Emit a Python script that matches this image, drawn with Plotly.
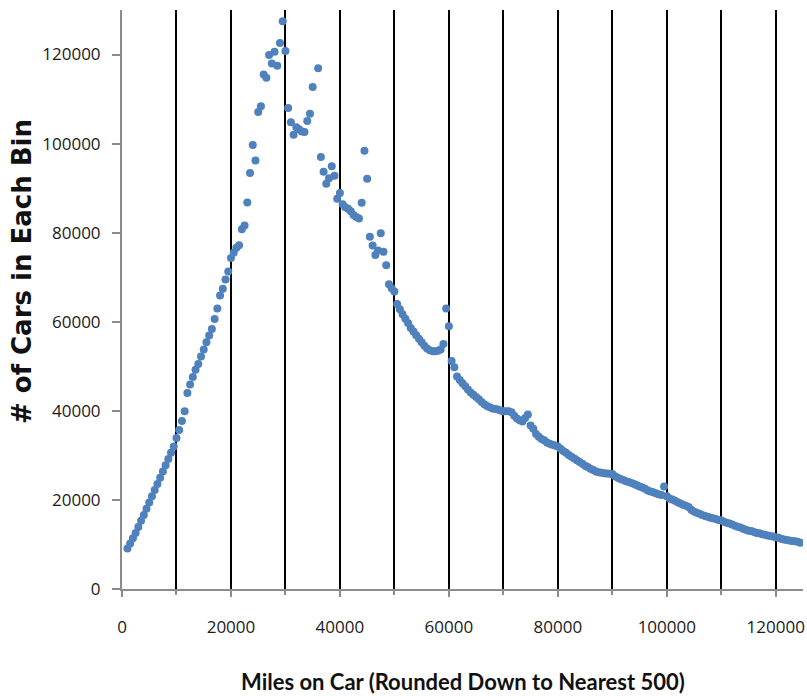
import plotly.graph_objects as go

# Bin start (miles) for each point: 1000 .. 124500 in 500-mile bins
bins = list(range(1000, 125000, 500))

# Number of cars in each bin
cars = [
    9100, 10200, 11400, 12600, 13900, 15300, 16600, 18000, 19400, 20800,      # 1000-5500
    22200, 23600, 25000, 26400, 27800, 29200, 30600, 32000, 33900, 35700,     # 6000-10500
    37700, 39900, 44000, 45900, 47600, 49200, 50500, 52200, 53800, 55400,     # 11000-15500
    56900, 58400, 60600, 63000, 65900, 67400, 69500, 71300, 74300, 75500,     # 16000-20500
    76600, 77200, 80800, 81600, 86800, 93400, 99700, 96200, 107100, 108400,   # 21000-25500
    115500, 114800, 119900, 118000, 120600, 117500, 122600, 127500, 120800, 108000,  # 26000-30500
    104800, 102000, 103700, 103200, 102700, 102600, 105100, 106700, 112700, None,    # 31000-35500
    116900, 97000, 93700, 91000, 92200, 94900, 92800, 87600, 88900, 86400,    # 36000-40500
    85700, 85400, 84800, 84000, 83500, 83200, 86700, 98400, 92100, 79100,     # 41000-45500
    77100, 75000, 76000, 79900, 75700, 72700, 68400, 67500, 66800, 64000,     # 46000-50500
    62800, 61700, 60700, 59700, 58600, 57800, 57000, 56200, 55400, 54600,     # 51000-55500
    54000, 53600, 53400, 53400, 53500, 53800, 55000, 63000, 59000, 51200,     # 56000-60500
    49800, 47700, 46900, 46200, 45500, 44800, 44100, 43600, 43100, 42600,     # 61000-65500
    42000, 41500, 41100, 40800, 40500, 40400, 40300, 40100, 39900, 39900,     # 66000-70500
    39900, 39700, 38900, 38300, 37900, 37600, 38400, 39200, 36700, 36000,     # 71000-75500
    34800, 34200, 33700, 33400, 32900, 32600, 32400, 32200, 32000, 31500,     # 76000-80500
    31000, 30600, 30100, 29700, 29300, 28900, 28500, 28100, 27700, 27400,     # 81000-85500
    27000, 26700, 26400, 26200, 26100, 26000, 25950, 25900, 25800, 25300,     # 86000-90500
    25000, 24700, 24500, 24200, 24000, 23800, 23600, 23300, 23000, 22800,     # 91000-95500
    22500, 22100, 21900, 21700, 21500, 21300, 21100, 23000, 20800, 20300,     # 96000-100500
    20100, 19800, 19500, 19200, 18900, 18700, 18400, 17800, 17400, 17100,     # 101000-105500
    16900, 16600, 16400, 16200, 16000, 15900, 15700, 15500, 15400, 15100,     # 106000-110500
    14900, 14700, 14500, 14200, 14000, 13800, 13500, 13300, 13100, 13000,     # 111000-115500
    12800, 12600, 12500, 12300, 12200, 12000, 11900, 11800, 11600, 11500,     # 116000-120500
    11300, 11100, 11000, 10900, 10800, 10700, 10600, 10400,                   # 121000-124500
]

x_title = "Miles on Car (Rounded Down to Nearest 500)"
y_title = "# of Cars in Each Bin"
x_label_step = 20000
x_line_step = 10000
y_label_step = 20000

fig = go.Figure()
fig.add_trace(go.Scatter(
    x=bins, y=cars, mode="markers",
    marker=dict(color="#4F81BD", size=8, line=dict(width=0)),
    hoverinfo="x+y", showlegend=False,
))

tick_font = dict(family="Open Sans, sans-serif", size=17, color="#1a1a1a")

fig.update_layout(
    width=807, height=696,
    margin=dict(l=122, r=4, t=10, b=107),
    paper_bgcolor="white", plot_bgcolor="white",
    font=tick_font,
    annotations=[
        dict(text="<b>" + x_title + "</b>", xref="paper", yref="paper",
             x=0.5, y=-0.159, xanchor="center", yanchor="middle", showarrow=False,
             font=dict(family="Lato, Open Sans, sans-serif", size=22, color="#111111")),
        dict(text="<b>" + y_title + "</b>", xref="paper", yref="paper",
             x=-0.147, y=0.549, xanchor="center", yanchor="middle", showarrow=False,
             textangle=-90,
             font=dict(family="DejaVu Sans, Verdana, sans-serif", size=26, color="#111111")),
    ],
)

fig.update_xaxes(
    range=[0, 125000], automargin=False,
    tickmode="linear", tick0=0, dtick=x_label_step, tickformat="d",
    tickfont=tick_font, ticklabelstandoff=16,
    showgrid=True, gridcolor="black", gridwidth=2,
    minor=dict(tick0=0, dtick=x_line_step, showgrid=True, gridcolor="black", gridwidth=2,
               ticks="outside", ticklen=4, tickcolor="#8C8C8C", tickwidth=1.5),
    showline=True, linecolor="#8C8C8C", linewidth=2,
    ticks="outside", ticklen=6, tickcolor="#8C8C8C", tickwidth=1.5,
    zeroline=False,
)
fig.update_yaxes(
    range=[0, 130000], automargin=False,
    tickmode="linear", tick0=0, dtick=y_label_step, tickformat="d",
    tickfont=tick_font, ticklabelstandoff=8,
    showgrid=False,
    showline=True, linecolor="#8C8C8C", linewidth=2,
    ticks="outside", ticklen=8, tickcolor="#8C8C8C", tickwidth=1.5,
    zeroline=False,
)

# remove the browser's default 8px body margin so the figure fills the window exactly
fig.write_html("out.html",
               config={"displayModeBar": False},
               post_script="document.body.style.margin='0';document.body.style.overflow='hidden';")
